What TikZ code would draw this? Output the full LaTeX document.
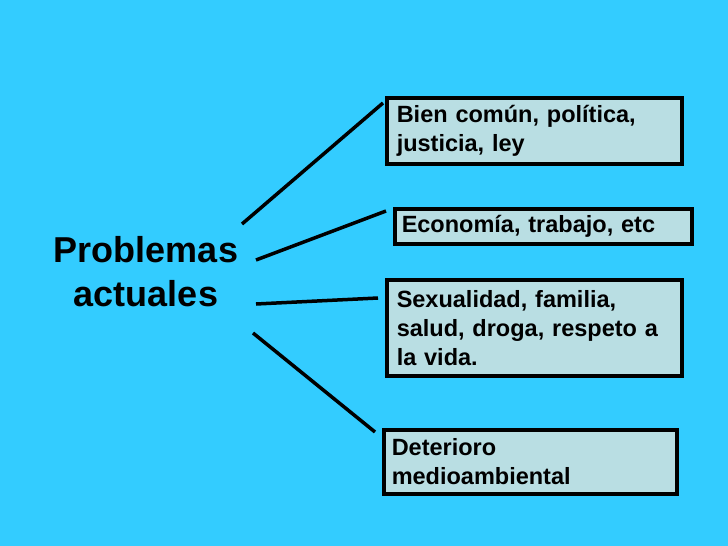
\documentclass[tikz,border=0pt]{standalone}
\usepackage{fontspec}
\setmainfont{Liberation Sans}
\definecolor{bg}{HTML}{33CCFF}
\definecolor{boxfill}{HTML}{B9DEE3}
\begin{document}
\begin{tikzpicture}[x=1pt,y=-1pt,
  item/.style={draw=black,line width=3.5pt,fill=boxfill,inner sep=0pt,anchor=north west,
    text width=#1,align=left,font=\bfseries\fontsize{23.5}{29}\selectfont},
  link/.style={line width=3.5pt}]
\fill[bg] (0,0) rectangle (728,546);
\useasboundingbox (0,0) rectangle (728,546);
\node[font=\bfseries\fontsize{36}{44}\selectfont,align=center] (p) at (146,272) {Problemas\\actuales};
\node[item=295pt,minimum height=66pt] (b1) at (385,96) {\hspace*{10pt}Bien común, política,\\\hspace*{10pt}justicia, ley};
\node[item=297pt,minimum height=35pt] (b2) at (393,207) {\hspace*{7pt}Economía, trabajo, etc};
\node[item=295pt,minimum height=96pt] (b3) at (385,278) {\hspace*{10pt}Sexualidad, familia,\\\hspace*{10pt}salud, droga, respeto a\\\hspace*{10pt}la vida.};
\node[item=293pt,minimum height=64pt] (b4) at (382,428) {\hspace*{8pt}Deterioro\\\hspace*{8pt}medioambiental};
\coordinate (s1) at (242,224); \coordinate (e1) at (383,103);
\coordinate (s2) at (256,260); \coordinate (e2) at (386,211);
\coordinate (s3) at (256,304); \coordinate (e3) at (378,298);
\coordinate (s4) at (253,333); \coordinate (e4) at (375,432);
\draw[link] (s1) -- (e1);
\draw[link] (s2) -- (e2);
\draw[link] (s3) -- (e3);
\draw[link] (s4) -- (e4);
\end{tikzpicture}
\end{document}
